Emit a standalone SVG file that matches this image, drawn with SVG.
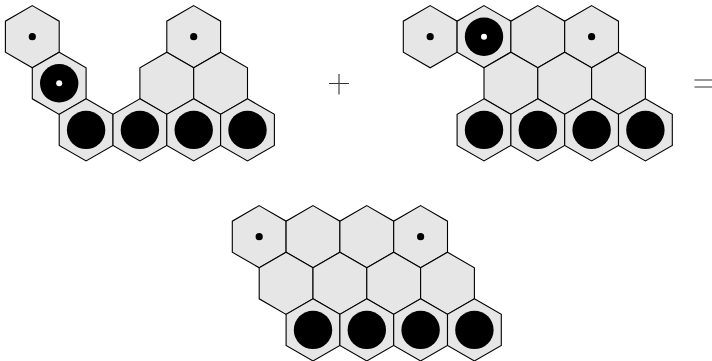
<svg xmlns="http://www.w3.org/2000/svg" xmlns:xlink="http://www.w3.org/1999/xlink" width="712" height="361" viewBox="0 0 712 361">
<style>
.hex{fill:#e6e6e6;stroke:#000;stroke-width:1.1;stroke-linejoin:miter}
.big{fill:#000}
.dot{fill:#000}
.wdot{fill:#fff}
.op{stroke:#333;stroke-width:1.1;fill:none}
</style>
<defs>
<polygon id="hx" class="hex" points="0,-31.06 26.9,-15.53 26.9,15.53 0,31.06 -26.9,15.53 -26.9,-15.53"/>
<g id="empty"><use href="#hx" xlink:href="#hx"/></g>
<g id="dotted"><use href="#hx" xlink:href="#hx"/><circle class="dot" r="3.6"/></g>
<g id="stone"><use href="#hx" xlink:href="#hx"/><circle class="big" r="19.2"/></g>
<g id="stonedot"><use href="#hx" xlink:href="#hx"/><circle class="big" r="19.2"/><circle class="wdot" r="3"/></g>
</defs>
<g id="fig1">
<use id="f1-r1c1" href="#dotted" xlink:href="#dotted" x="32.3" y="36.7"/>
<use id="f1-r1c2" href="#dotted" xlink:href="#dotted" x="193.7" y="36.7"/>
<use id="f1-r2c1" href="#stonedot" xlink:href="#stonedot" x="59.2" y="83.3"/>
<use id="f1-r2c2" href="#empty" xlink:href="#empty" x="166.8" y="83.3"/>
<use id="f1-r2c3" href="#empty" xlink:href="#empty" x="220.6" y="83.3"/>
<use id="f1-r3c1" href="#stone" xlink:href="#stone" x="86.1" y="129.9"/>
<use id="f1-r3c2" href="#stone" xlink:href="#stone" x="139.9" y="129.9"/>
<use id="f1-r3c3" href="#stone" xlink:href="#stone" x="193.7" y="129.9"/>
<use id="f1-r3c4" href="#stone" xlink:href="#stone" x="247.5" y="129.9"/>
</g>
<g id="fig2">
<use id="f2-r1c1" href="#dotted" xlink:href="#dotted" x="430.2" y="36.7"/>
<use id="f2-r1c2" href="#stonedot" xlink:href="#stonedot" x="484" y="36.7"/>
<use id="f2-r1c3" href="#empty" xlink:href="#empty" x="537.8" y="36.7"/>
<use id="f2-r1c4" href="#dotted" xlink:href="#dotted" x="591.6" y="36.7"/>
<use id="f2-r2c1" href="#empty" xlink:href="#empty" x="510.9" y="83.3"/>
<use id="f2-r2c2" href="#empty" xlink:href="#empty" x="564.7" y="83.3"/>
<use id="f2-r2c3" href="#empty" xlink:href="#empty" x="618.5" y="83.3"/>
<use id="f2-r3c1" href="#stone" xlink:href="#stone" x="484" y="129.9"/>
<use id="f2-r3c2" href="#stone" xlink:href="#stone" x="537.8" y="129.9"/>
<use id="f2-r3c3" href="#stone" xlink:href="#stone" x="591.6" y="129.9"/>
<use id="f2-r3c4" href="#stone" xlink:href="#stone" x="645.4" y="129.9"/>
</g>
<g id="fig3">
<use id="f3-r1c1" href="#dotted" xlink:href="#dotted" x="259.2" y="236.7"/>
<use id="f3-r1c2" href="#empty" xlink:href="#empty" x="313" y="236.7"/>
<use id="f3-r1c3" href="#empty" xlink:href="#empty" x="366.8" y="236.7"/>
<use id="f3-r1c4" href="#dotted" xlink:href="#dotted" x="420.6" y="236.7"/>
<use id="f3-r2c1" href="#empty" xlink:href="#empty" x="286.1" y="283.3"/>
<use id="f3-r2c2" href="#empty" xlink:href="#empty" x="339.9" y="283.3"/>
<use id="f3-r2c3" href="#empty" xlink:href="#empty" x="393.7" y="283.3"/>
<use id="f3-r2c4" href="#empty" xlink:href="#empty" x="447.5" y="283.3"/>
<use id="f3-r3c1" href="#stone" xlink:href="#stone" x="313" y="329.9"/>
<use id="f3-r3c2" href="#stone" xlink:href="#stone" x="366.8" y="329.9"/>
<use id="f3-r3c3" href="#stone" xlink:href="#stone" x="420.6" y="329.9"/>
<use id="f3-r3c4" href="#stone" xlink:href="#stone" x="474.4" y="329.9"/>
</g>
<g id="operators">
<path id="plus" class="op" d="M329,83.5 H349 M339,74 V94.5"/>
<path id="equals" class="op" d="M694.5,80 H712 M694.5,87 H712"/>
</g>
</svg>
